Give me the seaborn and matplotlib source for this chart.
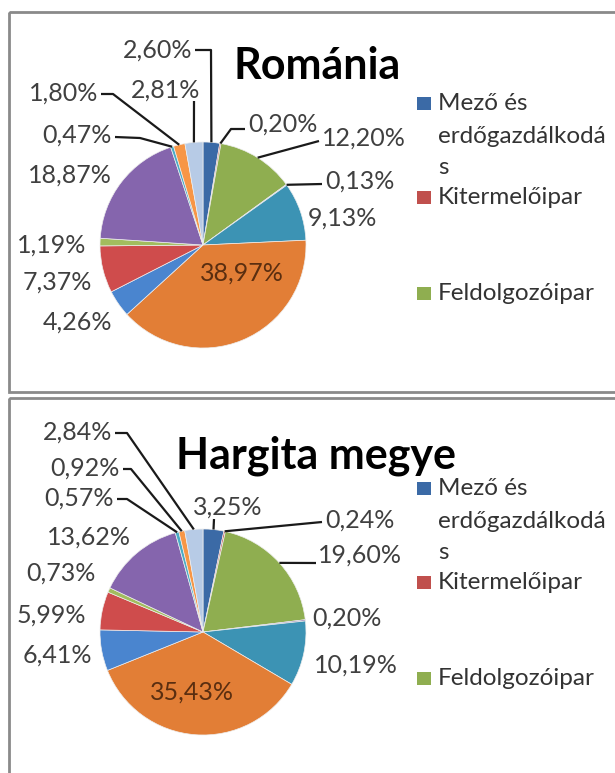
import matplotlib
matplotlib.use("Agg")
import numpy as np
import matplotlib.pyplot as plt
from matplotlib.patches import Rectangle
import seaborn as sns

# data (percent shares, clockwise from 12 o'clock)
romania_values = [2.60, 0.20, 12.20, 0.13, 9.13, 38.97, 4.26, 7.37, 1.19, 18.87, 0.47, 1.80, 2.81]
hargita_values = [3.25, 0.24, 19.60, 0.20, 10.19, 35.43, 6.41, 5.99, 0.73, 13.62, 0.57, 0.92, 2.84]
titles = ["Románia", "Hargita megye"]
legend_labels = [["Mező és", "erdőgazdálkodá", "s"], ["Kitermelőipar"], ["Feldolgozóipar"]]

colors = sns.color_palette(["#3b6aa6", "#c0504d", "#8fae50", "#7f60a6", "#3c93b4", "#e27e36",
                            "#4a85cf", "#cf4c4c", "#a2bd5e", "#8565ad", "#4bacc6", "#f79646",
                            "#b7cbe6"])

sns.set_theme(style="white")
plt.rcParams['font.family'] = ['Lato', 'DejaVu Sans']

W, H = 615, 773
fig = plt.figure(figsize=(W / 100, H / 100), dpi=100)
ax = fig.add_axes([0, 0, 1, 1])

# layout in pixel coords (y down): label (ha, x, y, leader points towards wedge)
panels = [
    dict(values=romania_values, title=titles[0], center=(203, 245), r=103,
         title_xy=(317, 66), legend_base=[110, 204, 300], legend_dy=[0, 33, 64],
         labels=[("right", 192, 50, [(195, 50), (211, 50)]),
                 ("left", 248, 124, [(245, 129), (231, 129)]),
                 ("left", 322, 138, [(319, 141)]),
                 ("left", 325, 181, [(322, 184)]),
                 ("left", 308, 218, None),
                 ("center", 242, 273, None),
                 ("right", 112, 322, None),
                 ("right", 92, 282, None),
                 ("right", 86, 245, None),
                 ("right", 112, 175, None),
                 ("right", 112, 135, [(115, 137), (140, 138)]),
                 ("right", 98, 93, [(101, 94), (113, 94)]),
                 ("center", 166, 90, [(194, 101)])]),
    dict(values=hargita_values, title=titles[1], center=(203, 632), r=103,
         title_xy=(316, 456), legend_base=[495, 589, 685], legend_dy=[0, 33, 64],
         labels=[("center", 228, 507, [(214, 519)]),
                 ("left", 325, 520, [(322, 522)]),
                 ("left", 318, 555, [(316, 563)]),
                 ("left", 312, 618, None),
                 ("left", 314, 665, None),
                 ("center", 192, 692, None),
                 ("right", 92, 655, None),
                 ("right", 86, 615, None),
                 ("right", 96, 573, None),
                 ("right", 131, 537, None),
                 ("right", 114, 498, [(117, 499), (127, 499)]),
                 ("right", 120, 468, [(123, 469), (131, 469)]),
                 ("right", 112, 432, [(115, 433), (127, 433)])]),
]

# panel frames
ax.add_patch(Rectangle((9, 12), 640, 380, fill=False, edgecolor="#8a8a8a", lw=2))
ax.add_patch(Rectangle((9, 398), 640, 420, fill=False, edgecolor="#8a8a8a", lw=2))

for p in panels:
    # y axis is inverted below, so counterclock in data = clockwise on screen
    wedges, _ = ax.pie(p["values"], colors=colors, startangle=-90, counterclock=True,
                       center=p["center"], radius=p["r"],
                       wedgeprops=dict(edgecolor="#eeeeee", linewidth=0.5))
    for w, v, (ha, x, y, leader) in zip(wedges, p["values"], p["labels"]):
        txt = f"{v:.2f}".replace(".", ",") + "%"
        col = "#5a2e10" if ha == "center" and leader is None else "#404040"
        ax.text(x, y, txt, ha=ha, va="center", fontsize=18, color=col)
        if leader:
            ang = np.deg2rad((w.theta1 + w.theta2) / 2)
            ex = w.center[0] + w.r * np.cos(ang)
            ey = w.center[1] + w.r * np.sin(ang)
            pts = leader + [(ex, ey)]
            ax.plot([q[0] for q in pts], [q[1] for q in pts], color="#1a1a1a", lw=1.6,
                    solid_capstyle="butt")
    ax.text(p["title_xy"][0], p["title_xy"][1], p["title"], ha="center", va="center",
            fontsize=31, fontweight="bold", color="black")
    for i, (lines, base) in enumerate(zip(legend_labels, p["legend_base"])):
        ax.add_patch(Rectangle((417, base - 13), 14, 13, color=colors[i], lw=0))
        for j, line in enumerate(lines):
            ax.text(438, base + p["legend_dy"][j], line, ha="left", va="baseline",
                    fontsize=17.5, color="#333333")

ax.set_xlim(0, W)
ax.set_ylim(H, 0)
ax.set_aspect("auto")
ax.axis("off")

fig.savefig("out.png", dpi=100, facecolor="white")
